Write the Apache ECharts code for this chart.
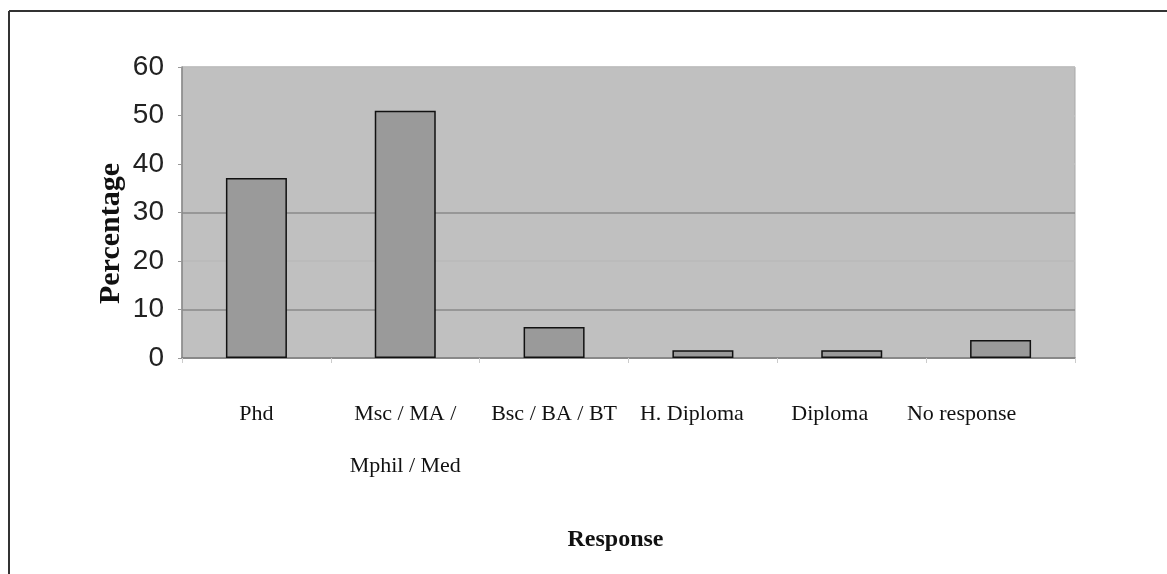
<!DOCTYPE html>
<html>
<head>
<meta charset="utf-8">
<script src="https://cdn.jsdelivr.net/npm/echarts@6/dist/echarts.min.js"></script>
<style>
html,body{margin:0;padding:0;background:#fff;}
#main{width:1167px;height:574px;}
</style>
</head>
<body>
<div id="main"></div>
<script>
var categories = ['Phd', 'Msc / MA /\nMphil / Med', 'Bsc / BA / BT', 'H. Diploma', 'Diploma', 'No response'];
var values = [37.1, 51, 6.4, 1.6, 1.6, 3.7];
var yTicks = [0, 10, 20, 30, 40, 50, 60];
var labelShift = [0, 0, 0, 22, 44, 78];

var chart = echarts.init(document.getElementById('main'), null, {renderer: 'canvas'});
chart.setOption({
  animation: false,
  backgroundColor: '#ffffff',
  graphic: [
    {type: 'line', shape: {x1: 9, y1: 11, x2: 1167, y2: 11}, style: {stroke: '#333', lineWidth: 2}},
    {type: 'line', shape: {x1: 9, y1: 11, x2: 9, y2: 574}, style: {stroke: '#333', lineWidth: 2}}
  ],
  grid: {left: 182, top: 67, right: 92, bottom: 216, show: true, backgroundColor: '#c0c0c0', borderColor: '#a8a8a8', borderWidth: 1},
  xAxis: {
    type: 'category',
    data: categories.map(function (c, i) {
      return {value: c, textStyle: {padding: [0, labelShift[i], 0, 0]}};
    }),
    name: 'Response',
    nameLocation: 'middle',
    nameGap: 170,
    nameMoveOverlap: false,
    nameTextStyle: {fontFamily: 'Liberation Serif', fontSize: 24, fontWeight: 'bold', color: '#111', padding: [0, 26, 0, 0]},
    axisLine: {lineStyle: {color: '#777', width: 1.5}},
    axisTick: {show: true, length: 5, lineStyle: {color: '#ccc'}},
    axisLabel: {interval: 0, margin: 30, fontFamily: 'Liberation Serif', fontSize: 22, color: '#111', lineHeight: 52}
  },
  yAxis: {
    type: 'value',
    min: 0, max: 60, interval: 10,
    name: 'Percentage',
    nameLocation: 'middle',
    nameRotate: 90,
    nameGap: 56,
    nameMoveOverlap: false,
    nameTextStyle: {fontFamily: 'Liberation Serif', fontSize: 30, fontWeight: 'bold', color: '#111', padding: [0, 42, 0, 0]},
    axisLine: {show: true, lineStyle: {color: '#888', width: 1.5}},
    axisTick: {show: true, length: 4, lineStyle: {color: '#999'}},
    axisLabel: {fontFamily: 'Liberation Sans Narrow, Liberation Sans, Arial', fontSize: 28, color: '#222', margin: 18,
      formatter: function (v) { return yTicks.indexOf(v) >= 0 ? String(v) : ''; }},
    splitLine: {show: true, lineStyle: {color: ['#c0c0c0', '#8a8a8a', '#bababa', '#8a8a8a', '#c0c0c0', '#c0c0c0', '#c0c0c0'], width: 1.5}}
  },
  series: [{
    type: 'bar',
    data: values,
    barWidth: 61,
    itemStyle: {color: '#9a9a9a', borderColor: '#111', borderWidth: 1.5}
  }]
});
</script>
</body>
</html>
